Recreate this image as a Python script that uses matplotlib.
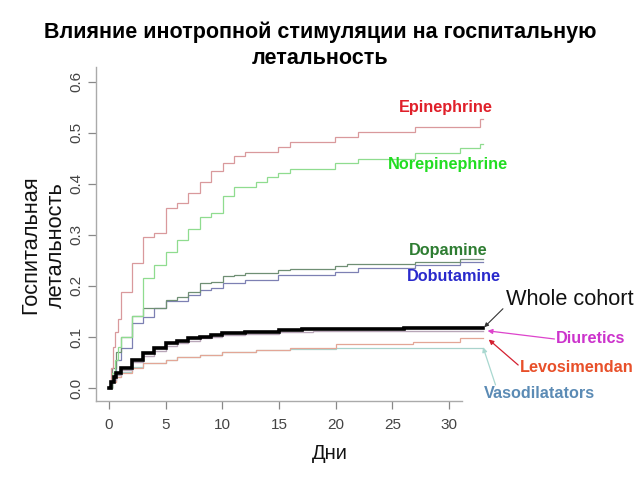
import matplotlib
matplotlib.use("Agg")
import matplotlib.pyplot as plt

plt.rcParams['font.family'] = ['Liberation Sans', 'DejaVu Sans']

# ---- data ----
epi_days = [0, 0.2, 0.35, 0.55, 0.75, 1.06, 2.03, 3.0, 3.97, 5.03, 6.0, 6.97, 8.03, 9.0, 10.06, 11.0, 12.0, 14.9, 16.0, 19.9, 22.0, 27.0, 32.7, 33.0]
epi_vals = [0, 0.04, 0.08, 0.11, 0.135, 0.188, 0.245, 0.295, 0.304, 0.353, 0.363, 0.382, 0.404, 0.425, 0.441, 0.455, 0.463, 0.473, 0.482, 0.492, 0.502, 0.512, 0.527, 0.527]

nor_days = [0, 0.25, 0.5, 0.8, 1.06, 2.03, 3.0, 3.97, 5.03, 6.0, 6.97, 8.03, 9.0, 10.06, 11.0, 13.0, 13.9, 14.9, 16.0, 19.9, 22.0, 27.0, 31.0, 32.7, 33.0]
nor_vals = [0, 0.03, 0.055, 0.08, 0.10, 0.141, 0.216, 0.241, 0.267, 0.29, 0.312, 0.335, 0.343, 0.376, 0.394, 0.404, 0.414, 0.422, 0.429, 0.441, 0.449, 0.461, 0.471, 0.478, 0.478]

dop_days = [0, 0.3, 0.6, 1.06, 2.03, 3.0, 5.03, 6.0, 6.97, 8.03, 9.0, 10.06, 11.0, 12.0, 14.9, 16.0, 19.9, 21.0, 27.0, 31.0, 33.0]
dop_vals = [0, 0.04, 0.07, 0.10, 0.141, 0.157, 0.173, 0.178, 0.188, 0.206, 0.208, 0.22, 0.222, 0.225, 0.231, 0.234, 0.239, 0.243, 0.247, 0.252, 0.252]

dob_days = [0, 0.3, 0.6, 1.06, 2.03, 3.0, 3.97, 5.03, 6.97, 8.03, 9.0, 10.06, 12.0, 14.9, 19.9, 22.0, 27.0, 31.0, 33.0]
dob_vals = [0, 0.03, 0.055, 0.078, 0.127, 0.139, 0.157, 0.171, 0.182, 0.192, 0.196, 0.206, 0.212, 0.222, 0.228, 0.235, 0.241, 0.246, 0.246]

coh_days = [0, 0.2, 0.4, 0.6, 1.06, 2.03, 3.0, 4.0, 5.0, 6.0, 7.0, 8.0, 9.0, 10.0, 12.0, 15.0, 17.0, 21.0, 26.0, 32.5, 33.0]
coh_vals = [0, 0.012, 0.022, 0.03, 0.039, 0.055, 0.069, 0.078, 0.088, 0.092, 0.098, 0.10, 0.104, 0.107, 0.110, 0.113, 0.115, 0.116, 0.117, 0.118, 0.118]

diu_days = [0, 0.3, 0.6, 1.06, 2.03, 3.0, 4.0, 5.0, 6.0, 7.0, 8.0, 9.0, 10.0, 12.0, 15.0, 18.0, 23.0, 33.0]
diu_vals = [0, 0.015, 0.025, 0.035, 0.05, 0.063, 0.073, 0.083, 0.088, 0.093, 0.097, 0.10, 0.103, 0.106, 0.109, 0.111, 0.112, 0.112]

levo_days = [0, 0.3, 0.6, 1.06, 2.03, 3.0, 5.0, 6.0, 8.0, 10.0, 13.0, 16.0, 20.0, 26.8, 31.0, 33.0]
levo_vals = [0, 0.012, 0.022, 0.03, 0.04, 0.048, 0.055, 0.06, 0.065, 0.07, 0.075, 0.078, 0.087, 0.091, 0.098, 0.098]

vaso_days = [0, 0.3, 0.6, 1.06, 2.03, 3.0, 5.0, 6.0, 8.0, 10.0, 13.0, 16.0, 20.0, 33.0]
vaso_vals = [0, 0.012, 0.022, 0.031, 0.041, 0.049, 0.055, 0.06, 0.065, 0.07, 0.074, 0.077, 0.079, 0.079]

x_ticks = [0, 5, 10, 15, 20, 25, 30]
y_ticks = [0.0, 0.1, 0.2, 0.3, 0.4, 0.5, 0.6]
y_ticklabels = ["0.0", "0.1", "0.2", "0.3", "0.4", "0.5", "0.6"]

# ---- figure ----
fig = plt.figure(figsize=(6.4, 4.8), dpi=100)
ax = fig.add_axes([0.15, 0.1646, 0.572, 0.6958])
ax.set_xlim(-1.15, 31.15)
ax.set_ylim(-0.0255, 0.629)

curves = [
    (vaso_days, vaso_vals, '#a9d3cc', 0.9),
    (levo_days, levo_vals, '#e3a696', 0.9),
    (diu_days, diu_vals, '#b8a6b8', 1.0),
    (dob_days, dob_vals, '#7d80b3', 0.9),
    (dop_days, dop_vals, '#6f8f74', 0.9),
    (nor_days, nor_vals, '#8fdc8f', 0.9),
    (epi_days, epi_vals, '#d9999c', 0.9),
    (coh_days, coh_vals, '#000000', 2.6),
]
for d, v, c, lw in curves:
    ax.plot(d, v, drawstyle='steps-post', color=c, lw=lw, clip_on=False,
            solid_joinstyle='miter')

for s in ['top', 'right']:
    ax.spines[s].set_visible(False)
for s in ['left', 'bottom']:
    ax.spines[s].set_color('#aaaaaa')
    ax.spines[s].set_linewidth(1.0)

ax.set_xticks(x_ticks)
ax.set_yticks(y_ticks)
ax.set_yticklabels(y_ticklabels, rotation=90, va='center')
ax.tick_params(axis='both', colors='#888888', length=6, width=0.9,
               labelcolor='#444444', labelsize=11)
ax.tick_params(axis='x', pad=6)
ax.tick_params(axis='y', pad=3)

# labels
lab_kw = dict(fontsize=11.7, fontweight='bold', ha='center', va='center', clip_on=False)
ax.text(29.7, 0.549, 'Epinephrine', color='#e0202a', **lab_kw)
ax.text(29.9, 0.437, 'Norepinephrine', color='#22dd22', **lab_kw)
ax.text(29.9, 0.269, 'Dopamine', color='#2e7d32', **lab_kw)
ax.text(30.4, 0.218, 'Dobutamine', color='#2a2acc', **lab_kw)
ax.text(42.5, 0.096, 'Diuretics', color='#cc33cc', **lab_kw)
ax.text(41.3, 0.041, 'Levosimendan', color='#e8502a', **lab_kw)
ax.text(38.0, -0.010, 'Vasodilatators', color='#5b8bb5', **lab_kw)

ax.annotate('Whole cohort', xy=(33.1, 0.119), xytext=(35.0, 0.173),
            fontsize=15.7, ha='left', va='center', color='#111111',
            annotation_clip=False,
            arrowprops=dict(arrowstyle='-|>', color='#333333', lw=0.8,
                            mutation_scale=6, shrinkA=0, shrinkB=0,
                            relpos=(0.0, 0.2)))
ax.annotate('', xy=(33.4, 0.112), xytext=(39.3, 0.096), annotation_clip=False,
            arrowprops=dict(arrowstyle='-|>', color='#dd44cc', lw=0.9,
                            mutation_scale=7, shrinkA=0, shrinkB=0))
ax.annotate('', xy=(33.5, 0.095), xytext=(36.1, 0.045), annotation_clip=False,
            arrowprops=dict(arrowstyle='-|>', color='#d42030', lw=0.9,
                            mutation_scale=7, shrinkA=0, shrinkB=0))
ax.annotate('', xy=(33.0, 0.080), xytext=(34.1, 0.006), annotation_clip=False,
            arrowprops=dict(arrowstyle='-|>', color='#a9d8d0', lw=0.9,
                            mutation_scale=7, shrinkA=0, shrinkB=0))

ax.set_xlabel('Дни', fontsize=14.5, color='#111111')
ax.xaxis.set_label_coords(0.639, -0.13)
fig.text(0.068, 0.49, 'Госпитальная\nлетальность', rotation=90, ha='center', va='center',
         fontsize=15.7, color='#111111', linespacing=1.3)
fig.text(0.5, 0.906, 'Влияние инотропной стимуляции на госпитальную\nлетальность',
         ha='center', va='center', fontsize=15.5, fontweight='bold', linespacing=1.28)

fig.savefig('out.png', dpi=100)
